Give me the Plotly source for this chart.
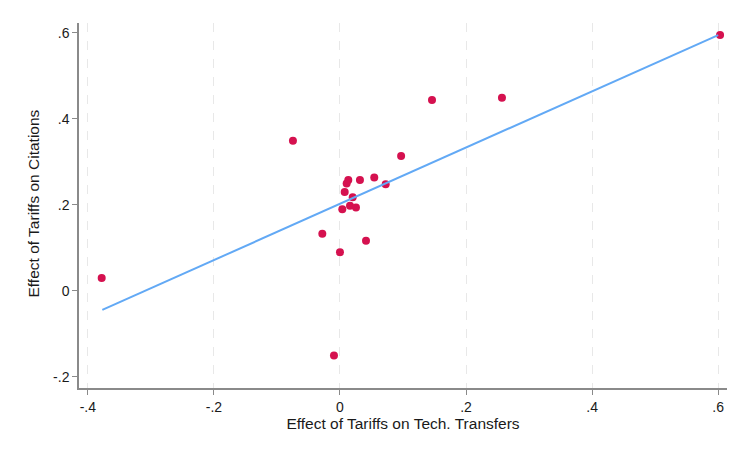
import plotly.graph_objects as go

# Data
tech_transfers = [-0.378, -0.0746, -0.028, 0.0, -0.0095, 0.146, 0.257, 0.603,
                  0.097, 0.0725, 0.0544, 0.0317, 0.0413, 0.0132, 0.0106,
                  0.0075, 0.0202, 0.0037, 0.0159, 0.0254]
citations = [0.030, 0.349, 0.133, 0.090, -0.150, 0.444, 0.449, 0.595,
             0.314, 0.248, 0.264, 0.258, 0.117, 0.258, 0.250,
             0.230, 0.218, 0.190, 0.198, 0.194]
fit_x = [-0.377, 0.600]
fit_y = [-0.044, 0.595]

x_ticks = [-0.4, -0.2, 0, 0.2, 0.4, 0.6]
x_ticklabels = ["-.4", "-.2", "0", ".2", ".4", ".6"]
y_ticks = [-0.2, 0, 0.2, 0.4, 0.6]
y_ticklabels = ["-.2", "0", ".2", ".4", ".6"]

W, H = 733, 442
ML, MT = 71, 15
MR = W - 719
MB = H - 380
PW, PH = W - ML - MR, H - MT - MB

fig = go.Figure()
fig.add_trace(go.Scatter(x=tech_transfers, y=citations, mode="markers",
                         marker=dict(color="#d5114f", size=8, line=dict(width=0)),
                         showlegend=False))
fig.add_trace(go.Scatter(x=fit_x, y=fit_y, mode="lines",
                         line=dict(color="#62a9f5", width=2),
                         showlegend=False))

FAM = "Liberation Sans, Arial, sans-serif"
tick_font = dict(family=FAM, size=14, color="#1a1a1a")
title_font = dict(family=FAM, size=15.5, color="#1a1a1a")

fig.update_layout(
    width=W, height=H,
    margin=dict(l=ML, r=MR, t=MT, b=MB, autoexpand=False),
    paper_bgcolor="white",
    plot_bgcolor="white",
    font=tick_font,
    annotations=[dict(text="Effect of Tariffs on Citations", textangle=-90,
                      xref="paper", yref="paper", x=(25 - ML) / PW,
                      y=1 - (195.5 - MT) / PH,
                      xanchor="center", yanchor="middle", showarrow=False,
                      font=title_font)],
    xaxis=dict(range=[-0.414, 0.614], tickvals=x_ticks, ticktext=x_ticklabels,
               showgrid=True, gridcolor="#e8e8e8", griddash="dash", gridwidth=1,
               zeroline=False, showline=True, linecolor="#8a8a8a", linewidth=1.5,
               ticks="outside", ticklen=5, tickcolor="#8a8a8a", automargin=False,
               title=dict(text="Effect of Tariffs on Tech. Transfers", standoff=4,
                          font=title_font),
               tickfont=tick_font),
    yaxis=dict(range=[-0.2256, 0.623], tickvals=y_ticks, ticktext=y_ticklabels,
               showgrid=False, zeroline=False, showline=True, linecolor="#8a8a8a",
               linewidth=1.5, ticks="outside", ticklen=5, tickcolor="#8a8a8a",
               automargin=False,
               tickfont=tick_font),
)

fig.write_html("out.html")
